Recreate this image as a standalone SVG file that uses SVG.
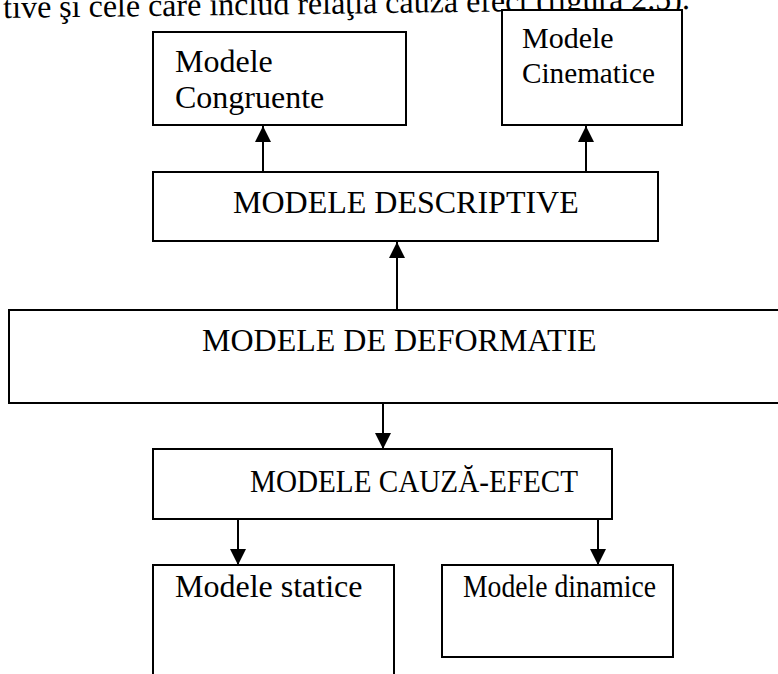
<svg xmlns="http://www.w3.org/2000/svg" width="778" height="674" viewBox="0 0 778 674">
  <defs>
    <style>
      .box { fill: #fff; stroke: #000; stroke-width: 2; }
      .lbl { font-family: "Liberation Serif", "Times New Roman", serif; font-size: 32px; fill: #000; }
      .sm { font-size: 30px; }
      .edge { stroke: #000; stroke-width: 2; fill: none; }
    </style>
    <marker id="arrow" viewBox="0 0 16 16" refX="16" refY="8" markerWidth="16" markerHeight="16" markerUnits="userSpaceOnUse" orient="auto">
      <path d="M0,0 L16,8 L0,16 Z" fill="#000"/>
    </marker>
  </defs>
  <rect width="778" height="674" fill="#fff"/>

  <!-- running text line above the figure -->
  <text class="lbl" x="690" y="9" text-anchor="end" transform="rotate(-0.75 690 9)">tive şi cele care includ relaţia cauză efect (figura 2.5).</text>

  <g id="connectors">
    <line class="edge" x1="263" y1="172" x2="263" y2="126" marker-end="url(#arrow)"/>
    <line class="edge" x1="586" y1="172" x2="586" y2="126" marker-end="url(#arrow)"/>
    <line class="edge" x1="397" y1="310" x2="397" y2="242" marker-end="url(#arrow)"/>
    <line class="edge" x1="383" y1="403" x2="383" y2="449" marker-end="url(#arrow)"/>
    <line class="edge" x1="238" y1="519" x2="238" y2="565" marker-end="url(#arrow)"/>
    <line class="edge" x1="598" y1="519" x2="598" y2="565" marker-end="url(#arrow)"/>
  </g>

  <g id="congruente">
    <rect class="box" x="153" y="32" width="253" height="93"/>
    <text class="lbl" x="175" y="72">Modele</text>
    <text class="lbl" x="175" y="108">Congruente</text>
  </g>

  <g id="cinematice">
    <rect class="box" x="502" y="10" width="180" height="115"/>
    <text class="lbl sm" x="522" y="48">Modele</text>
    <text class="lbl sm" x="522" y="83" textLength="133" lengthAdjust="spacingAndGlyphs">Cinematice</text>
  </g>

  <g id="descriptive">
    <rect class="box" x="153" y="172" width="505" height="69"/>
    <text class="lbl" x="233" y="213">MODELE DESCRIPTIVE</text>
  </g>

  <g id="deformatie">
    <rect class="box" x="9" y="310" width="790" height="93"/>
    <text class="lbl" x="202" y="351">MODELE DE DEFORMATIE</text>
  </g>

  <g id="cauza-efect">
    <rect class="box" x="153" y="449" width="459" height="70"/>
    <text class="lbl" x="250" y="492" textLength="328" lengthAdjust="spacingAndGlyphs">MODELE CAUZĂ-EFECT</text>
  </g>

  <g id="statice">
    <rect class="box" x="153" y="565" width="241" height="130"/>
    <text class="lbl" x="175" y="597">Modele statice</text>
  </g>

  <g id="dinamice">
    <rect class="box" x="442" y="565" width="231" height="92"/>
    <text class="lbl" x="463" y="597" textLength="193" lengthAdjust="spacingAndGlyphs">Modele dinamice</text>
  </g>
</svg>
